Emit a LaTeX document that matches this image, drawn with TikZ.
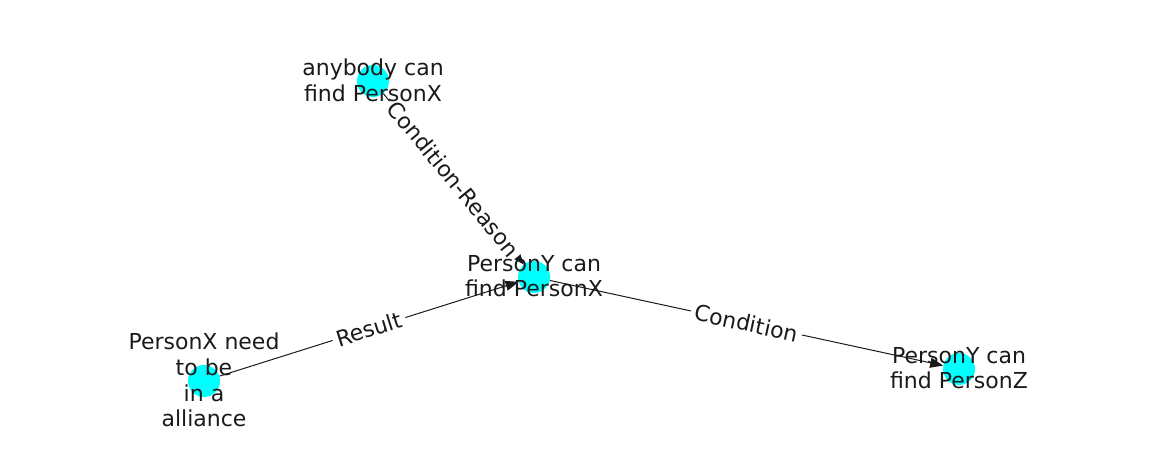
\documentclass[tikz,border=0pt]{standalone}
\usepackage{fontspec}
\setmainfont{DejaVu Sans}
\usetikzlibrary{arrows.meta}
\definecolor{nodecyan}{RGB}{0,255,255}
\definecolor{ink}{RGB}{26,26,26}
\begin{document}
\begin{tikzpicture}[x=1pt,y=-1pt,
  dot/.style={circle,fill=nodecyan,minimum size=32pt,inner sep=0pt},
  lbl/.style={align=center,font=\fontsize{22}{25.7}\selectfont,text=ink,inner sep=0pt},
  edgeline/.style={line width=1pt,draw=ink},
  arr/.style={edgeline,-{Triangle[length=13pt,width=10pt]}},
  elbl/.style={sloped,fill=white,font=\fontsize{22}{25.7}\selectfont,inner sep=4pt,text=ink}]
\useasboundingbox (0,0) rectangle (1162,462);
\node[dot] (A) at (373,81) {};
\node[dot] (B) at (534,277) {};
\node[dot] (C) at (204,381) {};
\node[dot] (D) at (959,369) {};
\draw[arr] (A) -- node[elbl] (lab1) {Condition-Reason} (B);
\draw[arr] (C) -- node[elbl] (lab2) {Result} (B);
\draw[arr] (B) -- node[elbl] (lab3) {Condition} (D);
\node[lbl] (tA) at (373,80) {anybody can\\find PersonX};
\node[lbl] (tB) at (534,276) {PersonY can\\find PersonX};
\node[lbl] (tC) at (204,380) {PersonX need\\to be\\in a\\alliance};
\node[lbl] (tD) at (959,368) {PersonY can\\find PersonZ};
\end{tikzpicture}
\end{document}
